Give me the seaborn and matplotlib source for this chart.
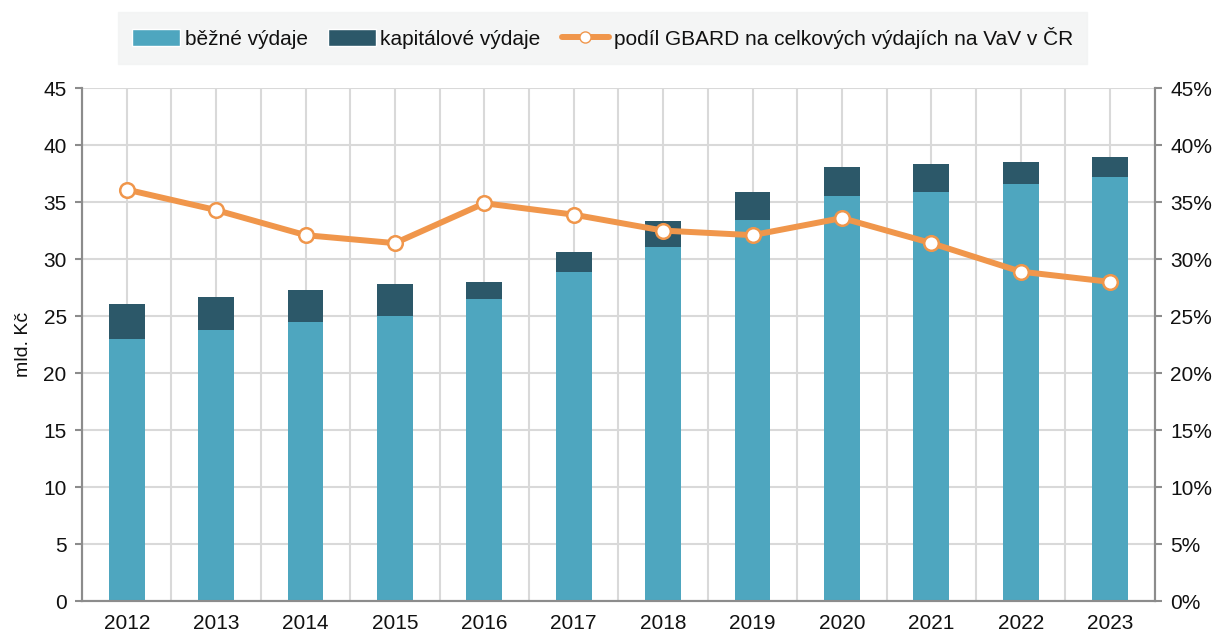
import numpy as np
import pandas as pd
import matplotlib
matplotlib.use("Agg")
import matplotlib.pyplot as plt
from matplotlib.ticker import MultipleLocator, FixedLocator, FuncFormatter
from matplotlib.patches import Patch
from matplotlib.lines import Line2D
import seaborn as sns

# data
years = ["2012", "2013", "2014", "2015", "2016", "2017",
         "2018", "2019", "2020", "2021", "2022", "2023"]
bezne = [23.0, 23.8, 24.5, 25.0, 26.5, 28.9, 31.1, 33.4, 35.5, 35.9, 36.6, 37.2]
kapitalove = [3.1, 2.9, 2.8, 2.8, 1.5, 1.7, 2.2, 2.5, 2.6, 2.4, 1.9, 1.8]
podil = [36.1, 34.3, 32.1, 31.4, 34.9, 33.9, 32.5, 32.1, 33.6, 31.4, 28.9, 28.0]

# colours
c_light = "#4ea6bf"
c_dark = "#2c5869"
c_orange = "#f0964b"
c_grid = "#d9d9d9"
c_axis = "#8c8c8c"
fs = 15

sns.set_theme(style="white")
plt.rcParams["font.family"] = ["Liberation Sans", "DejaVu Sans"]
plt.rcParams["text.color"] = "#111111"

df = pd.DataFrame({"rok": years, "bezne": bezne, "kapitalove": kapitalove})
df["celkem"] = df["bezne"] + df["kapitalove"]

fig = plt.figure(figsize=(12.15, 6.34), dpi=100)
ax = fig.add_axes([0.0675, 0.052, 0.883, 0.809])

# stacked bars: total (dark) first, current spending (light) on top of it
sns.barplot(data=df, x="rok", y="celkem", color=c_dark, width=0.4,
            saturation=1, linewidth=0, ax=ax, zorder=2)
sns.barplot(data=df, x="rok", y="bezne", color=c_light, width=0.4,
            saturation=1, linewidth=0, ax=ax, zorder=3)

ax.set_ylim(0, 45)
ax.set_xlim(-0.5, len(years) - 0.5)
ax.yaxis.set_major_locator(MultipleLocator(5))
ax.set_xlabel("")
ax.set_ylabel("mld. Kč", fontsize=14, labelpad=8, color="#111111")

# gridlines at category centres and boundaries
ax.xaxis.set_minor_locator(FixedLocator(np.arange(-0.5, len(years), 1.0)))
ax.set_axisbelow(True)
ax.grid(True, which="major", axis="both", color=c_grid, linewidth=1.5, zorder=0)
ax.grid(True, which="minor", axis="x", color=c_grid, linewidth=1.5, zorder=0)

ax.tick_params(axis="x", which="major", length=0, labelsize=fs, pad=9,
               labelcolor="#111111")
ax.tick_params(axis="x", which="minor", length=5, width=1.5, color=c_axis, direction="out")
ax.tick_params(axis="y", which="major", length=5, width=1.5, color=c_axis,
               direction="out", labelsize=fs, left=True, pad=6, labelcolor="#111111")

for s in ["left", "bottom", "right"]:
    ax.spines[s].set_visible(True)
    ax.spines[s].set_color(c_axis)
    ax.spines[s].set_linewidth(1.5)
ax.spines["top"].set_visible(False)

# share of GBARD on right axis
ax2 = ax.twinx()
ax2.plot(np.arange(len(years)), podil, color=c_orange, linewidth=4.3,
         marker="o", markersize=10.5, markerfacecolor="white",
         markeredgecolor=c_orange, markeredgewidth=1.8, zorder=5)
ax2.set_ylim(0, 45)
ax2.yaxis.set_major_locator(MultipleLocator(5))
ax2.yaxis.set_major_formatter(FuncFormatter(lambda v, p: f"{v:.0f}%"))
ax2.tick_params(axis="y", length=5, width=1.5, color=c_axis, direction="out",
                labelsize=fs, right=True, pad=6, labelcolor="#111111")
for s in ["left", "bottom", "right"]:
    ax2.spines[s].set_color(c_axis)
    ax2.spines[s].set_linewidth(1.5)
ax2.spines["top"].set_visible(False)
ax2.grid(False)

# legend
handles = [
    Patch(facecolor=c_light, label="běžné výdaje"),
    Patch(facecolor=c_dark, label="kapitálové výdaje"),
    Line2D([0], [0], color=c_orange, linewidth=4.3, marker="o", markersize=8,
           markerfacecolor="white", markeredgecolor=c_orange,
           label="podíl GBARD na celkových výdajích na VaV v ČR"),
]
leg = fig.legend(handles=handles, loc="center", bbox_to_anchor=(0.496, 0.94),
                 ncol=3, frameon=True, fontsize=fs, handlelength=2.3,
                 handleheight=0.9, handletextpad=0.2, columnspacing=1.0,
                 borderpad=0.7, borderaxespad=0, fancybox=False)
leg.get_frame().set_facecolor("#f2f3f3")
leg.get_frame().set_edgecolor("#f2f3f3")

fig.savefig("out.png", dpi=100)
